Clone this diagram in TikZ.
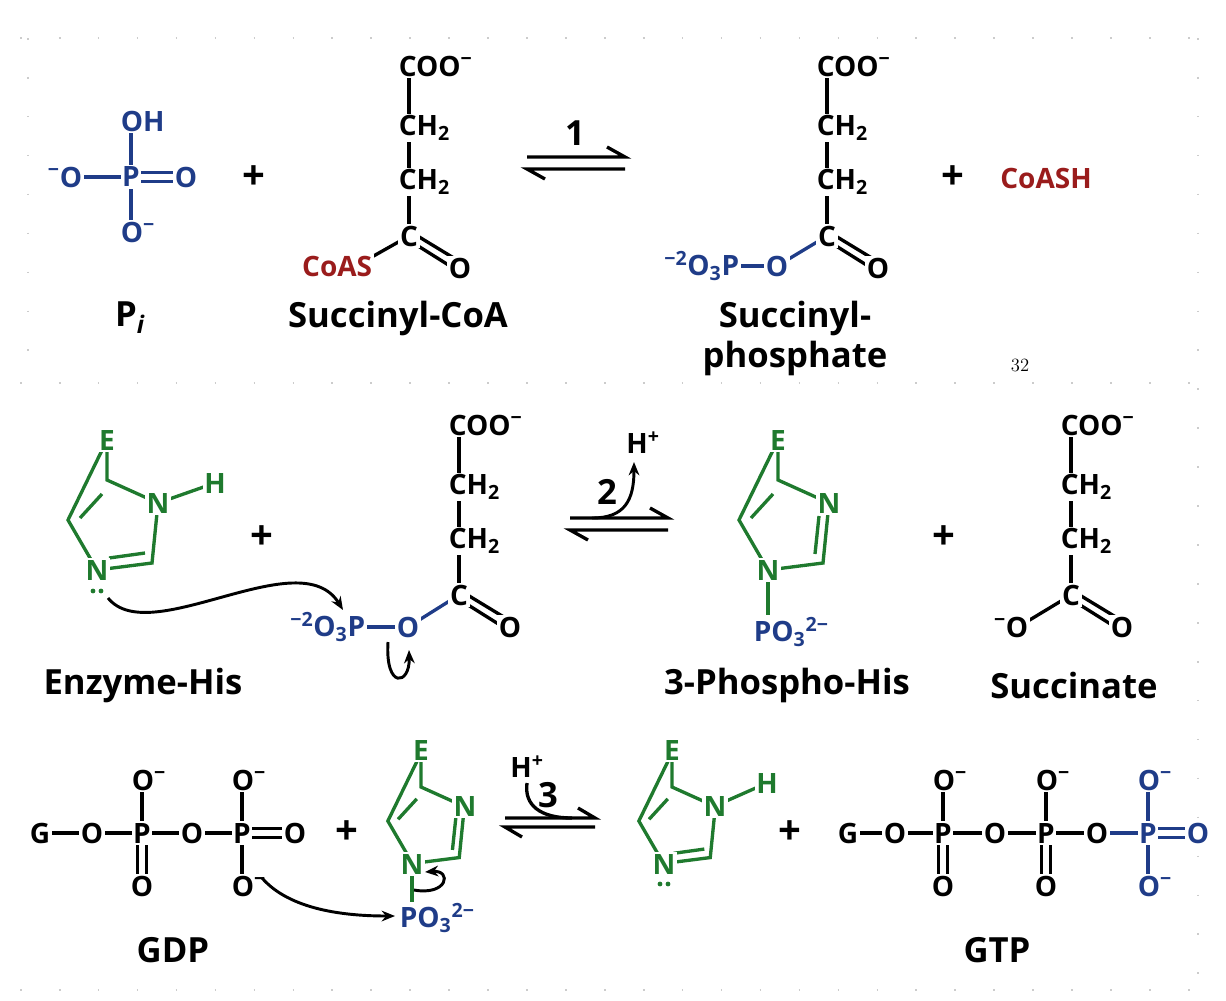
\documentclass[tikz,border=0pt]{standalone}
\usepackage{fontspec}
\setmainfont{Open Sans}
\usetikzlibrary{arrows.meta}
\definecolor{cb}{HTML}{1F3C88}
\definecolor{cg}{HTML}{1F7A2E}
\definecolor{cr}{HTML}{9A1C1C}
\newcommand\af{\fontsize{21}{24}\selectfont\bfseries}
\newcommand\lf{\fontsize{26}{30}\selectfont\bfseries}
\newcommand\msup{\textsuperscript{−}}
\newcommand\chainS[2]{%
 \draw[bd] (#1,#2)--(#1,#2+170);
 \draw[bd] (#1,#2+170)++(-2,3)--(#1+49,#2+205);
 \draw[bd] (#1,#2+170)++(2,-4)--(#1+53,#2+197);
 \node[a,anchor=west] at (#1-12,#2) {COO\msup};
 \node[a,anchor=west] at (#1-12,#2+62) {CH\textsubscript{2}};
 \node[a,anchor=west] at (#1-12,#2+116) {CH\textsubscript{2}};
 \node[a] at (#1,#2+170) {C};
 \node[a] at (#1+51,#2+202) {O};}
\newcommand\ringA[3]{% C4 at (#1,#2), scale #3; double C4=C5, N1=C2
 \begin{scope}[shift={(#1,#2)},scale=#3]
 \draw[bd,cg] (0,-40)--(0,0)--(51,23)--(45,83)--(-10,90)--(-39,40)--cycle;
 \draw[bd,cg] (-5,14)--(-27,38);
 \draw[bd,cg] (2,78)--(38,73);
 \end{scope}}
\newcommand\ringB[3]{% double C4=C5, N3=C2
 \begin{scope}[shift={(#1,#2)},scale=#3]
 \draw[bd,cg] (0,-40)--(0,0)--(51,23)--(45,83)--(-10,90)--(-39,40)--cycle;
 \draw[bd,cg] (-5,14)--(-27,38);
 \draw[bd,cg] (41,36)--(37,74);
 \end{scope}}
\begin{document}
\begin{tikzpicture}[x=0.75pt,y=-0.75pt,
 a/.style={font=\af,fill=white,inner sep=1.2pt},
 pl/.style={font=\fontsize{30}{30}\selectfont\bfseries,inner sep=0pt},
 num/.style={font=\lf,inner sep=0pt},
 lab/.style={font=\lf,inner sep=0pt},
 bd/.style={line width=2.5pt},
 ar/.style={line width=2.2pt,-{Stealth[length=10pt,width=8pt]}},
 dots/.style={gray!40,line width=1.2pt,dash pattern=on 1.2pt off 28pt}]
\useasboundingbox (0,0) rectangle (1226,1000);
% background dotted rules
\draw[dots] (20,38)--(1226,38);
\draw[dots] (20,383)--(1226,383);
\draw[dots] (20,990)--(1226,990);
\draw[dots] (28,38)--(28,380);
\draw[dots] (1198,38)--(1198,990);
% ---------- Row 1 ----------
\begin{scope}[cb]
 \draw[bd] (131,121)--(131,232);
 \draw[bd] (65,177)--(131,177);
 \draw[bd] (131,172.5)--(186,172.5);
 \draw[bd] (131,181.5)--(186,181.5);
\end{scope}
\node[a,text=cb] (piP) at (131,177) {P};
\node[a,text=cb,anchor=west] (piOH) at (119,121) {OH};
\node[a,text=cb,anchor=west] (piO1) at (119,232) {O\msup};
\node[a,text=cb] (piO2) at (186,177) {O};
\node[a,text=cb,anchor=east] (piO3) at (84,177) {\msup O};
\node[pl] (plus1) at (254,178) {+};
\draw[bd] (409,236)--(370,258);
\chainS{409}{66}
\node[a,text=cr,anchor=east] (coas) at (374,266) {CoAS};
% arrow 1
\draw[bd] (527,157)--(625,157)--(607,147);
\draw[bd] (625,169)--(527,169)--(545,179);
\node[num] (n1) at (575,133) {1};
% succinyl phosphate
\draw[bd,cb] (729,266)--(777,266);
\draw[bd,cb] (777,266)--(827,236);
\chainS{827}{66}
\node[a,text=cb] (spO) at (777,266) {O};
\node[a,text=cb,anchor=east] (spP) at (741,266) {\textsuperscript{−2}O\textsubscript{3}P};
\node[pl] (plus2) at (953,178) {+};
\node[a,text=cr] (coash) at (1046,178) {CoASH};
\node[lab] at (130,318) {P\textsubscript{\itshape i}};
\node[lab] at (398,318) {Succinyl-CoA};
\node[lab] at (795,318) {Succinyl-};
\node[lab] at (795,358) {phosphate};
\node[font=\fontfamily{lmr}\fontsize{14}{16}\selectfont] at (1020,365) {32};
% ---------- Row 2 ----------
\ringA{107}{480}{1}
\draw[bd,cg] (158,503)--(215,483);
\node[a,text=cg] (e1) at (107,440) {E};
\node[a,text=cg] (n31) at (158,503) {N};
\node[a,text=cg] (n11) at (97,570) {N};
\node[a,text=cg] (h1) at (215,483) {H};
\fill[cg] (93,591) circle (2.4) (101,591) circle (2.4);
\node[pl] (plus3) at (262,538) {+};
\draw[bd,cb] (355,627)--(408,627);
\draw[bd,cb] (408,627)--(459,595);
\chainS{459}{425}
\node[a,text=cb] (m2O) at (408,627) {O};
\node[a,text=cb,anchor=east] (m2P) at (367,627) {\textsuperscript{−2}O\textsubscript{3}P};
\draw[ar] (108,598) .. controls (150,650) and (300,540) .. (343,610);
\draw[ar] (388,642) .. controls (385,690) and (410,685) .. (409,650);
% arrow 2
\draw[bd] (570,518)--(668,518)--(650,508);
\draw[bd] (668,530)--(570,530)--(588,540);
\node[num] (n2) at (607,492) {2};
\draw[ar] (592,518) .. controls (625,518) and (634,500) .. (634,462);
\node[a,fill=none] (hp2) at (643,443) {H\textsuperscript{+}};
% phospho-his
\ringB{778}{480}{1}
\draw[bd,cg] (768,570)--(768,615);
\node[a,text=cg] (e2) at (778,440) {E};
\node[a,text=cg] (n32) at (829,503) {N};
\node[a,text=cg] (n12) at (768,570) {N};
\node[a,text=cb,anchor=west] (po1) at (752,632) {PO\textsubscript{3}\textsuperscript{2−}};
\node[pl] (plus4) at (944,538) {+};
\draw[bd] (1018,627)--(1071,595);
\chainS{1071}{425}
\node[a,anchor=east] (sO) at (1030,627) {\msup O};
\node[lab] at (143,685) {Enzyme-His};
\node[lab] at (787,685) {3-Phospho-His};
\node[lab] at (1074,685) {Succinate};
% ---------- Row 3 ----------
\draw[bd] (40,833)--(242,833);
\draw[bd] (242,828.5)--(295,828.5);
\draw[bd] (242,837.5)--(295,837.5);
\draw[bd] (142,780)--(142,833);
\draw[bd] (137.5,833)--(137.5,886);
\draw[bd] (146.5,833)--(146.5,886);
\draw[bd] (242,780)--(242,886);
\node[a] at (40,833) {G};
\node[a] at (92,833) {O};
\node[a] (gP1) at (142,833) {P};
\node[a] at (192,833) {O};
\node[a] (gP2) at (242,833) {P};
\node[a] at (295,833) {O};
\node[a,anchor=west] at (130,780) {O\msup};
\node[a,anchor=west] at (230,780) {O\msup};
\node[a] at (142,886) {O};
\node[a,anchor=west] (gOm) at (230,886) {O\msup};
\node[pl] (plus5) at (347,833) {+};
\ringB{421}{787}{0.85}
\draw[bd,cg] (412,864)--(412,905);
\node[a,text=cg] (e3) at (421,750) {E};
\node[a,text=cg] (n33) at (465,806) {N};
\node[a,text=cg] (n13) at (412,864) {N};
\node[a,text=cb,anchor=west] (po2) at (398,918) {PO\textsubscript{3}\textsuperscript{2−}};
\draw[ar] (262,878) .. controls (290,910) and (345,916) .. (395,916);
\draw[ar] (414,890) .. controls (448,896) and (452,870) .. (425,872);
% arrow 3
\draw[bd] (505,818)--(595,818)--(578,808);
\draw[bd] (595,827)--(505,827)--(522,837);
\node[num] (n3) at (548,795) {3};
\node[a,fill=none] (hp3) at (527,767) {H\textsuperscript{+}};
\draw[bd] (527,783) .. controls (524,805) and (540,818) .. (572,818);
% product imidazole
\ringA{672}{787}{0.85}
\draw[bd,cg] (715,806)--(767,783);
\node[a,text=cg] (e4) at (672,750) {E};
\node[a,text=cg] (n34) at (715,806) {N};
\node[a,text=cg] (n14) at (664,864) {N};
\node[a,text=cg] (h4) at (767,783) {H};
\fill[cg] (660,884) circle (2.4) (668,884) circle (2.4);
\node[pl] (plus6) at (790,833) {+};
% GTP
\draw[bd] (848,833)--(1097,833);
\draw[bd,cb] (1097,833)--(1148,833);
\draw[bd,cb] (1148,828.5)--(1198,828.5);
\draw[bd,cb] (1148,837.5)--(1198,837.5);
\draw[bd] (943,780)--(943,833);
\draw[bd] (938.5,833)--(938.5,886);
\draw[bd] (947.5,833)--(947.5,886);
\draw[bd] (1046,780)--(1046,833);
\draw[bd] (1041.5,833)--(1041.5,886);
\draw[bd] (1050.5,833)--(1050.5,886);
\draw[bd,cb] (1148,780)--(1148,886);
\node[a] at (848,833) {G};
\node[a] at (895,833) {O};
\node[a] at (943,833) {P};
\node[a] at (995,833) {O};
\node[a] at (1046,833) {P};
\node[a] at (1097,833) {O};
\node[a,text=cb] at (1148,833) {P};
\node[a,text=cb] at (1198,833) {O};
\node[a,anchor=west] at (931,780) {O\msup};
\node[a,anchor=west] at (1034,780) {O\msup};
\node[a,text=cb,anchor=west] at (1136,780) {O\msup};
\node[a] at (943,886) {O};
\node[a] at (1046,886) {O};
\node[a,text=cb,anchor=west] at (1136,886) {O\msup};
\node[lab] at (173,950) {GDP};
\node[lab] at (997,950) {GTP};
\end{tikzpicture}
\end{document}
